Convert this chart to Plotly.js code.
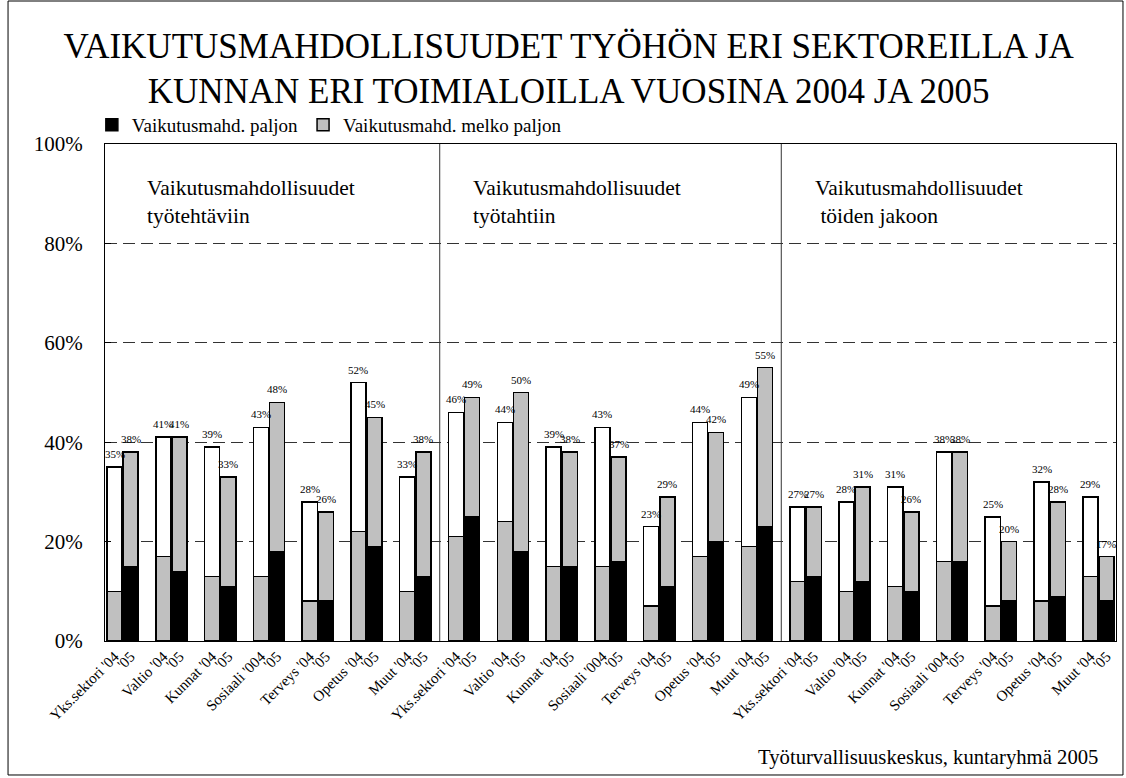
<!DOCTYPE html>
<html>
<head>
<meta charset="utf-8">
<script src="https://cdn.plot.ly/plotly-3.0.1.min.js"></script>
<style>
  html, body { margin: 0; padding: 0; background: #fff; }
  #chart { width: 1126px; height: 778px; }
</style>
</head>
<body>
<div id="chart"></div>
<script>
// ---- Data (percent) ----
const sectors = ["Yks.sektori '04", "Valtio '04", "Kunnat '04", "Sosiaali '004", "Terveys '04", "Opetus '04", "Muut '04"];
const label05 = "'05";
const panelTitles = ["Vaikutusmahdollisuudet<br>työtehtäviin", "Vaikutusmahdollisuudet<br>työtahtiin", "Vaikutusmahdollisuudet<br> töiden jakoon"];

// 2004: paljon (gray bottom), melko paljon (white top)
const paljon04 = [10,17,13,13,8,22,10,  21,24,15,15,7,17,19,  12,10,11,16,7,8,13];
const melko04  = [25,24,26,30,20,30,23,  25,20,24,28,16,27,30,  15,18,20,22,18,24,16];
// 2005: paljon (black bottom), melko paljon (gray top)
const paljon05 = [15,14,11,18,8,19,13,  25,18,15,16,11,20,23,  13,12,10,16,8,9,8];
const melko05  = [23,27,22,30,18,26,25,  24,32,23,21,18,22,32,  14,19,16,22,12,19,9];

const yTickVals = [0,20,40,60,80,100];
const yTickText = ["0%","20%","40%","60%","80%","100%"];

// ---- Positions ----
const nGroups = paljon04.length;
const off = 0.165, bw = 0.31;
const x04 = [], x05 = [];
for (let i = 0; i < nGroups; i++) { x04.push(i - off); x05.push(i + off); }
const tickvals = [], ticktext = [];
for (let i = 0; i < nGroups; i++) {
  tickvals.push(x04[i]); ticktext.push(sectors[i % sectors.length]);
  tickvals.push(x05[i]); ticktext.push(label05);
}
const total04 = paljon04.map((v, i) => v + melko04[i]);
const total05 = paljon05.map((v, i) => v + melko05[i]);

const FONT = '"Liberation Serif", "Times New Roman", serif';
const line = {color: '#000', width: 1.5};

const traces = [
  {type:'bar', x:x04, y:paljon04, width:bw, marker:{color:'#c0c0c0', line:line}, showlegend:false, hoverinfo:'y'},
  {type:'bar', x:x04, y:melko04, width:bw, marker:{color:'#ffffff', line:line}, showlegend:false, hoverinfo:'y'},
  {type:'bar', x:x05, y:paljon05, width:bw, marker:{color:'#000000', line:line}, name:'Vaikutusmahd. paljon', hoverinfo:'y'},
  {type:'bar', x:x05, y:melko05, width:bw, marker:{color:'#c0c0c0', line:line}, name:'Vaikutusmahd. melko paljon', hoverinfo:'y'}
];

const annotations = [];
for (let i = 0; i < nGroups; i++) {
  annotations.push({x:x04[i], y:total04[i], xref:'x', yref:'y', text: total04[i] + '%', showarrow:false, yshift:13, font:{family:FONT, size:11, color:'#000'}});
  annotations.push({x:x05[i], y:total05[i], xref:'x', yref:'y', text: total05[i] + '%', showarrow:false, yshift:13, font:{family:FONT, size:11, color:'#000'}});
}
const panelX = [0.040, 0.362, 0.700];
panelTitles.forEach((t, k) => annotations.push({
  x: panelX[k], y: 0.883, xref:'paper', yref:'paper', xanchor:'left', yanchor:'middle', align:'left',
  text: t, showarrow:false, font:{family:FONT, size:21.5, color:'#000'}
}));
annotations.push({x:0.984, y:-0.235, xref:'paper', yref:'paper', xanchor:'right', yanchor:'middle',
  text:'Työturvallisuuskeskus, kuntaryhmä 2005', showarrow:false, font:{family:FONT, size:20.7, color:'#000'}});

const shapes = [
  {type:'line', xref:'x', yref:'paper', x0:6.5, x1:6.5, y0:0, y1:1, line:{color:'#333', width:1}},
  {type:'line', xref:'x', yref:'paper', x0:13.5, x1:13.5, y0:0, y1:1, line:{color:'#333', width:1}},
  {type:'rect', xref:'paper', yref:'paper', x0:-0.0959, x1:1.0069, y0:-0.2696, y1:1.2877, line:{color:'#000', width:1}, fillcolor:'rgba(0,0,0,0)'}
];

const layout = {
  width:1126, height:778,
  margin:{l:105, r:10, t:144, b:137},
  paper_bgcolor:'#fff', plot_bgcolor:'#fff',
  font:{family:FONT, color:'#000'},
  barmode:'stack',
  title:{text:'VAIKUTUSMAHDOLLISUUDET TYÖHÖN ERI SEKTOREILLA JA<br>KUNNAN ERI TOIMIALOILLA VUOSINA 2004 JA 2005',
         font:{family:FONT, size:35, color:'#000', weight:'normal'}, x:0.505, xanchor:'center', y:0.926, yanchor:'middle', yref:'container'},
  xaxis:{range:[-0.36, 20.36], tickmode:'array', tickvals:tickvals, ticktext:ticktext, tickangle:-45,
         tickfont:{family:FONT, size:15, color:'#000'}, showgrid:false, zeroline:false,
         showline:true, linecolor:'#000', linewidth:1, mirror:true, ticks:''},
  yaxis:{range:[0,100], tickmode:'array', tickvals:yTickVals, ticktext:yTickText,
         tickfont:{family:FONT, size:21, color:'#000'}, showgrid:true, gridcolor:'#333', gridwidth:1, griddash:'12px,6px',
         zeroline:false, showline:true, linecolor:'#000', linewidth:1, mirror:true,
         ticks:'inside', ticklen:6, tickcolor:'#000', ticklabelstandoff:17},
  legend:{orientation:'h', x:-0.013, xanchor:'left', y:1.0, yanchor:'bottom', traceorder:'normal',
          font:{family:FONT, size:19, color:'#000'}, bgcolor:'rgba(0,0,0,0)'},
  annotations:annotations,
  shapes:shapes,
  showlegend:true
};

Plotly.newPlot('chart', traces, layout, {displayModeBar:false, staticPlot:true});
</script>
</body>
</html>
